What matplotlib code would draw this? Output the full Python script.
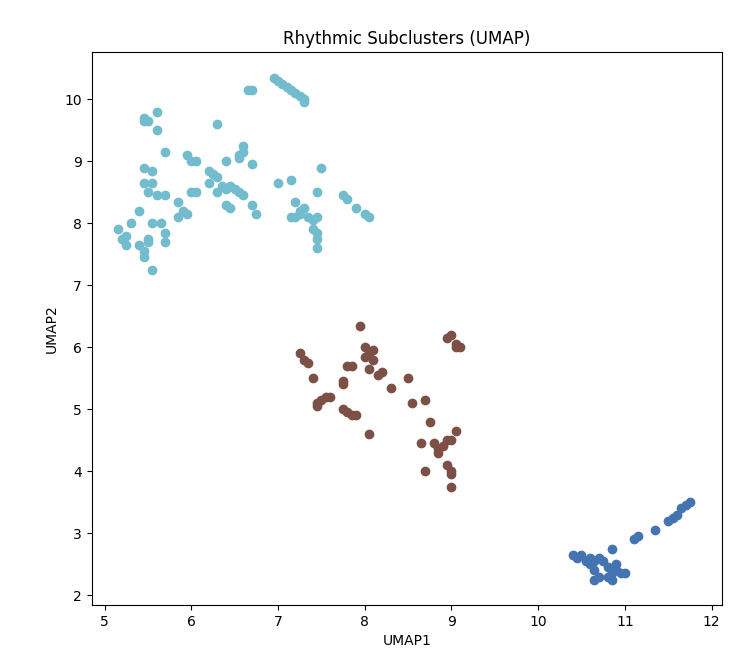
import matplotlib
matplotlib.use("Agg")
import matplotlib.pyplot as plt

cyan_x = [5.15,5.2,5.25,5.25,5.3,5.4,5.4,5.45,5.45,5.5,5.5,5.55,5.45,5.5,5.45,5.6,5.6,5.45,5.55,5.45,5.55,5.5,5.6,5.55,5.65,5.7,5.7,5.7,5.7,5.85,5.9,5.85,5.95,5.95,6.0,6.05,6.0,6.05,6.2,6.25,6.2,6.3,6.35,6.3,6.4,6.45,6.5,6.55,6.4,6.45,6.3,6.4,6.55,6.6,6.6,6.55,6.6,6.7,6.75,6.7,6.65,6.7,6.95,7.0,7.05,7.1,7.15,7.2,7.25,7.3,7.3,7.0,7.15,7.15,7.2,7.25,7.3,7.25,7.2,7.35,7.4,7.4,7.45,7.45,7.45,7.45,7.45,7.5,7.75,7.8,7.9,8.0,8.05]
cyan_y = [7.9,7.75,7.65,7.8,8.0,8.2,7.65,7.55,7.45,7.75,7.7,7.25,9.7,9.65,9.65,9.8,9.5,8.9,8.85,8.65,8.65,8.5,8.45,8.0,8.0,7.85,7.7,9.15,8.45,8.35,8.2,8.1,8.15,9.1,9.0,9.0,8.5,8.5,8.85,8.8,8.65,8.75,8.6,8.5,8.55,8.6,8.55,8.5,8.3,8.25,9.6,9.0,9.05,9.15,9.25,9.1,8.45,8.3,8.15,8.95,10.15,10.15,10.35,10.3,10.25,10.2,10.15,10.1,10.05,10.0,9.95,8.65,8.7,8.1,8.35,8.2,8.25,8.15,8.1,8.1,8.05,7.9,7.85,7.75,7.6,8.1,8.5,8.9,8.45,8.4,8.25,8.15,8.1]

brown_x = [7.25,7.3,7.35,7.4,7.45,7.45,7.5,7.55,7.6,7.75,7.75,7.8,7.85,7.75,7.8,7.85,7.9,7.95,8.0,8.05,8.0,8.1,8.1,8.05,8.15,8.2,8.3,8.05,8.5,8.55,8.7,8.75,8.65,8.7,8.8,8.85,8.85,8.9,8.95,9.0,9.05,8.95,9.0,9.0,9.0,8.95,9.0,9.05,9.05,9.1]
brown_y = [5.9,5.8,5.75,5.5,5.05,5.1,5.15,5.2,5.2,5.45,5.4,5.7,5.7,5.0,4.95,4.9,4.9,6.35,6.0,5.9,5.85,5.95,5.8,5.65,5.55,5.6,5.35,4.6,5.5,5.1,5.15,4.8,4.45,4.0,4.45,4.35,4.3,4.4,4.5,4.5,4.65,4.1,4.0,3.95,3.75,6.15,6.2,6.05,6.0,6.0]

blue_x = [10.4,10.45,10.5,10.55,10.6,10.6,10.65,10.7,10.75,10.65,10.7,10.65,10.85,10.8,10.85,10.8,10.85,10.9,10.9,10.95,11.0,11.1,11.15,11.35,11.5,11.55,11.6,11.65,11.7,11.75]
blue_y = [2.65,2.6,2.65,2.55,2.5,2.6,2.55,2.6,2.55,2.4,2.3,2.25,2.75,2.45,2.35,2.3,2.25,2.4,2.5,2.35,2.35,2.9,2.95,3.05,3.2,3.25,3.3,3.4,3.45,3.5]

fig = plt.figure(figsize=(7.52, 6.7), dpi=100)
ax = fig.add_axes([0.122, 0.097, 0.838, 0.825])
ax.scatter(cyan_x, cyan_y, color="#72bccd", s=36)
ax.scatter(brown_x, brown_y, color="#7d5045", s=36)
ax.scatter(blue_x, blue_y, color="#4473b1", s=36)
ax.set_xlim(4.85, 12.12)
ax.set_ylim(1.84, 10.76)
ax.set_title("Rhythmic Subclusters (UMAP)")
ax.set_xlabel("UMAP1")
ax.set_ylabel("UMAP2")
fig.savefig("out.png", dpi=100)
